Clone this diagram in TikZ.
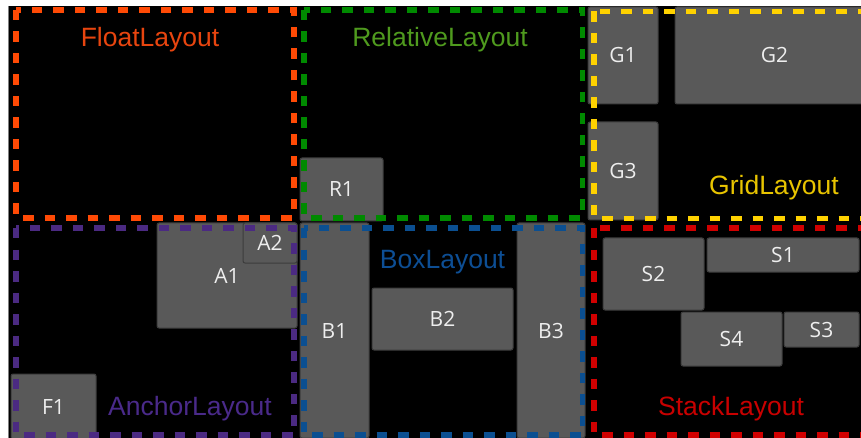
\documentclass[tikz,border=0pt]{standalone}
\usepackage{fontspec}
\setmainfont{Liberation Sans}
\newfontfamily\lblfont{Open Sans}
\definecolor{cOrange}{HTML}{FF4A05}
\definecolor{tOrange}{HTML}{E8450F}
\definecolor{cGreen}{HTML}{008A00}
\definecolor{tGreen}{HTML}{4F9A1E}
\definecolor{cYellow}{HTML}{FFD200}
\definecolor{tYellow}{HTML}{E8C400}
\definecolor{cPurple}{HTML}{4B2A82}
\definecolor{tPurple}{HTML}{4A2A8A}
\definecolor{cBlue}{HTML}{0B4F91}
\definecolor{tBlue}{HTML}{0D4E94}
\definecolor{cRed}{HTML}{D00000}
\definecolor{tRed}{HTML}{C80000}
\definecolor{boxfill}{HTML}{595959}
\definecolor{boxline}{HTML}{3C3C3C}
\definecolor{lbl}{HTML}{EEEEEE}
\tikzset{
  gbox/.style={draw=boxline, fill=boxfill, line width=1pt, rounded corners=2pt,
    inner sep=0pt, text=lbl, font=\lblfont\fontsize{21}{24}\selectfont,
    text height=15pt, text depth=0pt},
  frame/.style={draw=#1, line width=5.5pt, dash pattern=on 10.5pt off 11pt},
  title/.style={anchor=base, inner sep=0pt, font=\fontsize{26.5}{30}\selectfont}
}
\newcommand\gbox[6]{%
  \pgfmathsetmacro\gbW{#4-#2}\pgfmathsetmacro\gbH{#5-#3}%
  \node[gbox, minimum width=\gbW pt, minimum height=\gbH pt] (#1) at ({(#2+#4)/2},{(#3+#5)/2}) {#6};}
\begin{document}
\begin{tikzpicture}[x=1pt,y=-1pt]
\useasboundingbox (0,0) rectangle (861,438);
\fill[white] (0,0) rectangle (861,438);
\fill[black] (9,6) rectangle (861,438);
\draw[gray, line width=1.2pt] (8.4,6) -- (8.4,438);
\begin{scope}
\clip (9,6) rectangle (861,438);
% boxes
\gbox{R1}{300}{158}{383}{221}{R1}
\gbox{G1}{588}{7}{658}{104}{G1}
\gbox{G2}{675}{7}{874}{104}{G2}
\gbox{G3}{588}{122}{658}{220}{G3}
\gbox{A1}{157}{223}{297}{328}{A1}
\gbox{A2}{243}{223}{297}{263}{A2}
\gbox{F1}{11}{374}{96}{439}{F1}
\gbox{B1}{300}{223}{369}{438}{B1}
\gbox{B2}{372}{288}{513}{350}{B2}
\gbox{B3}{517}{223}{585}{438}{B3}
\gbox{S1}{707}{238}{859}{272}{S1}
\gbox{S2}{603}{238}{704}{310}{S2}
\gbox{S3}{784}{312}{859}{347}{S3}
\gbox{S4}{681}{312}{782}{366}{S4}
% frames
\draw[frame=cOrange] (16,10) rectangle (294,218);
\draw[frame=cGreen] (304,10) rectangle (582.5,218);
\draw[frame=cYellow] (594,11.5) rectangle (868,218.5);
\draw[frame=cPurple] (16,228) rectangle (294,435);
\draw[frame=cBlue] (304,228) rectangle (582.5,435);
\draw[frame=cRed] (594,228) rectangle (868,435);
% titles
\node[title, text=tOrange] (tFloat) at (150,47) {FloatLayout};
\node[title, text=tGreen] (tRel) at (440,47) {RelativeLayout};
\node[title, text=tYellow] (tGrid) at (774,195) {GridLayout};
\node[title, text=tPurple] (tAnchor) at (190,415) {AnchorLayout};
\node[title, text=tBlue] (tBox) at (442.5,268) {BoxLayout};
\node[title, text=tRed] (tStack) at (731,415) {StackLayout};
\end{scope}
\end{tikzpicture}
\end{document}
